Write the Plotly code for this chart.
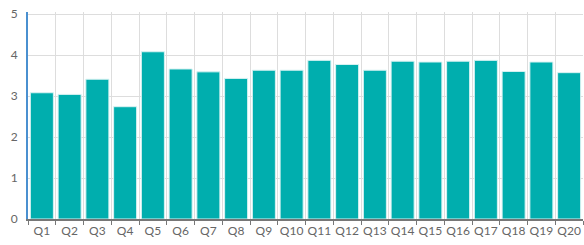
import plotly.graph_objects as go

categories = [f"Q{i}" for i in range(1, 21)]
values = [3.08, 3.04, 3.41, 2.74, 4.08, 3.66, 3.59, 3.43, 3.63, 3.63,
          3.87, 3.77, 3.63, 3.85, 3.83, 3.85, 3.87, 3.60, 3.83, 3.57]
y_ticks = [0, 1, 2, 3, 4, 5]

fig = go.Figure(go.Bar(
    x=categories, y=values,
    marker=dict(color="#00AEAE", line=dict(color="#d8f2f2", width=1)),
))

fig.update_layout(
    width=584, height=245,
    margin=dict(l=28, r=1, t=12, b=26),
    paper_bgcolor="white", plot_bgcolor="white",
    bargap=0.17,
    showlegend=False,
    font=dict(family="Lato, sans-serif", size=11, color="#666666"),
)
fig.update_xaxes(
    type="category", range=[-0.5, 19.5],
    tickson="boundaries", ticks="outside", ticklen=4, tickcolor="#777777",
    showgrid=True, gridcolor="#dddddd", gridwidth=1,
    showline=True, linecolor="#777777", linewidth=1.5,
    tickangle=0, automargin=False,
    tickfont=dict(size=12, color="#666666"),
)
fig.update_yaxes(
    range=[0, 5.05], tickvals=y_ticks,
    showgrid=True, gridcolor="#dddddd", gridwidth=1,
    showline=True, linecolor="#4a90d0", linewidth=2,
    ticks="", ticklabelstandoff=6, automargin=False,
    zeroline=False,
    tickfont=dict(size=12, color="#666666"),
)

fig.write_html(
    "out.html",
    config={"displayModeBar": False},
    post_script="document.body.style.margin='0';document.body.style.overflow='hidden';",
)
